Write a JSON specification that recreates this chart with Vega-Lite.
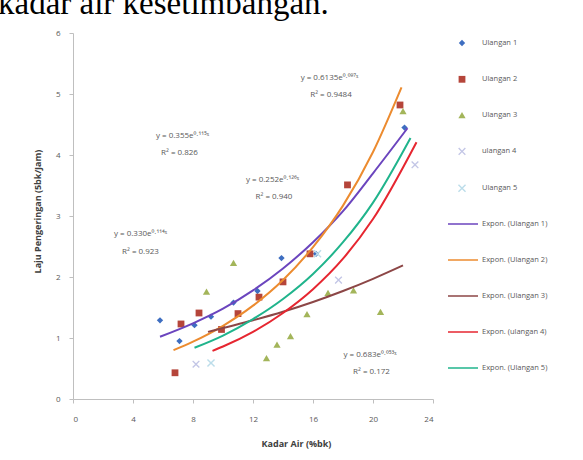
{
  "$schema": "https://vega.github.io/schema/vega-lite/v6.json",
  "width": 360,
  "height": 366,
  "autosize": {"type": "none"},
  "padding": {"left": 73, "top": 33, "right": 150, "bottom": 61},
  "background": "white",
  "title": {
    "text": "kadar air kesetimbangan.",
    "font": "Liberation Serif",
    "fontSize": 33,
    "fontWeight": "normal",
    "color": "#000000",
    "anchor": "start",
    "frame": "group",
    "baseline": "alphabetic",
    "offset": 4,
    "dx": -75,
    "dy": 22
  },
  "config": {
    "view": {"stroke": null},
    "font": "Open Sans",
    "axis": {
      "grid": false,
      "domainColor": "#BFBFBF",
      "tickColor": "#BFBFBF",
      "tickSize": 4,
      "labelFontSize": 8,
      "labelColor": "#595959",
      "labelFont": "Open Sans",
      "titleFont": "Open Sans",
      "titleFontSize": 9,
      "titleFontWeight": "bold",
      "titleColor": "#404040"
    },
    "legend": {
      "labelFont": "Open Sans",
      "labelFontSize": 7.5,
      "labelColor": "#595959",
      "padding": 0
    }
  },
  "datasets": {
    "pts": [
      {"s": "Ulangan 1", "x": 5.8, "y": 1.29},
      {"s": "Ulangan 1", "x": 7.1, "y": 0.95},
      {"s": "Ulangan 1", "x": 8.1, "y": 1.21},
      {"s": "Ulangan 1", "x": 9.2, "y": 1.35},
      {"s": "Ulangan 1", "x": 10.7, "y": 1.58},
      {"s": "Ulangan 1", "x": 12.3, "y": 1.77},
      {"s": "Ulangan 1", "x": 13.9, "y": 2.31},
      {"s": "Ulangan 1", "x": 16.2, "y": 2.38},
      {"s": "Ulangan 1", "x": 22.1, "y": 4.45},
      {"s": "Ulangan 2", "x": 6.8, "y": 0.43},
      {"s": "Ulangan 2", "x": 7.2, "y": 1.23},
      {"s": "Ulangan 2", "x": 8.4, "y": 1.41},
      {"s": "Ulangan 2", "x": 9.9, "y": 1.14},
      {"s": "Ulangan 2", "x": 11.0, "y": 1.4},
      {"s": "Ulangan 2", "x": 12.4, "y": 1.67},
      {"s": "Ulangan 2", "x": 14.0, "y": 1.92},
      {"s": "Ulangan 2", "x": 15.8, "y": 2.38},
      {"s": "Ulangan 2", "x": 18.3, "y": 3.51},
      {"s": "Ulangan 2", "x": 21.8, "y": 4.82},
      {"s": "Ulangan 3", "x": 8.9, "y": 1.76},
      {"s": "Ulangan 3", "x": 10.7, "y": 2.23},
      {"s": "Ulangan 3", "x": 12.9, "y": 0.67},
      {"s": "Ulangan 3", "x": 13.6, "y": 0.89},
      {"s": "Ulangan 3", "x": 14.5, "y": 1.03},
      {"s": "Ulangan 3", "x": 15.6, "y": 1.39},
      {"s": "Ulangan 3", "x": 17.0, "y": 1.74},
      {"s": "Ulangan 3", "x": 18.7, "y": 1.78},
      {"s": "Ulangan 3", "x": 20.5, "y": 1.43},
      {"s": "Ulangan 3", "x": 22.0, "y": 4.72},
      {"s": "ulangan 4", "x": 8.2, "y": 0.57},
      {"s": "ulangan 4", "x": 17.7, "y": 1.95},
      {"s": "ulangan 4", "x": 22.8, "y": 3.84},
      {"s": "Ulangan 5", "x": 9.2, "y": 0.59},
      {"s": "Ulangan 5", "x": 16.3, "y": 2.38}
    ],
    "curves": [
      {"c": "Expon. (Ulangan 1)", "x": 5.8, "y": 1.02},
      {"c": "Expon. (Ulangan 1)", "x": 8, "y": 1.24},
      {"c": "Expon. (Ulangan 1)", "x": 10, "y": 1.48},
      {"c": "Expon. (Ulangan 1)", "x": 12, "y": 1.78},
      {"c": "Expon. (Ulangan 1)", "x": 14, "y": 2.14},
      {"c": "Expon. (Ulangan 1)", "x": 16, "y": 2.57},
      {"c": "Expon. (Ulangan 1)", "x": 18, "y": 3.08},
      {"c": "Expon. (Ulangan 1)", "x": 20, "y": 3.7},
      {"c": "Expon. (Ulangan 1)", "x": 22.3, "y": 4.44},
      {"c": "Expon. (Ulangan 2)", "x": 6.7, "y": 0.8},
      {"c": "Expon. (Ulangan 2)", "x": 8, "y": 0.94},
      {"c": "Expon. (Ulangan 2)", "x": 10, "y": 1.2},
      {"c": "Expon. (Ulangan 2)", "x": 12, "y": 1.53},
      {"c": "Expon. (Ulangan 2)", "x": 14, "y": 1.95},
      {"c": "Expon. (Ulangan 2)", "x": 16, "y": 2.49},
      {"c": "Expon. (Ulangan 2)", "x": 18, "y": 3.17},
      {"c": "Expon. (Ulangan 2)", "x": 20, "y": 4.05},
      {"c": "Expon. (Ulangan 2)", "x": 21.9, "y": 5.11},
      {"c": "Expon. (Ulangan 3)", "x": 9, "y": 1.1},
      {"c": "Expon. (Ulangan 3)", "x": 12, "y": 1.29},
      {"c": "Expon. (Ulangan 3)", "x": 14, "y": 1.43},
      {"c": "Expon. (Ulangan 3)", "x": 16, "y": 1.59},
      {"c": "Expon. (Ulangan 3)", "x": 18, "y": 1.77},
      {"c": "Expon. (Ulangan 3)", "x": 20, "y": 1.97},
      {"c": "Expon. (Ulangan 3)", "x": 22, "y": 2.19},
      {"c": "Expon. (ulangan 4)", "x": 9.3, "y": 0.79},
      {"c": "Expon. (ulangan 4)", "x": 10, "y": 0.86},
      {"c": "Expon. (ulangan 4)", "x": 12, "y": 1.1},
      {"c": "Expon. (ulangan 4)", "x": 14, "y": 1.41},
      {"c": "Expon. (ulangan 4)", "x": 16, "y": 1.8},
      {"c": "Expon. (ulangan 4)", "x": 18, "y": 2.3},
      {"c": "Expon. (ulangan 4)", "x": 20, "y": 2.95},
      {"c": "Expon. (ulangan 4)", "x": 22.9, "y": 4.21},
      {"c": "Expon. (Ulangan 5)", "x": 8.1, "y": 0.84},
      {"c": "Expon. (Ulangan 5)", "x": 10, "y": 1.04},
      {"c": "Expon. (Ulangan 5)", "x": 12, "y": 1.31},
      {"c": "Expon. (Ulangan 5)", "x": 14, "y": 1.64},
      {"c": "Expon. (Ulangan 5)", "x": 16, "y": 2.05},
      {"c": "Expon. (Ulangan 5)", "x": 18, "y": 2.57},
      {"c": "Expon. (Ulangan 5)", "x": 20, "y": 3.22},
      {"c": "Expon. (Ulangan 5)", "x": 22.5, "y": 4.28}
    ],
    "notes": [
      {"x": 17.1, "y": 5.26, "t": "y = 0.6135e⁰·⁰⁹⁷ˣ"},
      {"x": 17.2, "y": 4.98, "t": "R² =  0.9484"},
      {"x": 7.3, "y": 4.31, "t": "y = 0.355e⁰·¹¹⁵ˣ"},
      {"x": 7.1, "y": 4.03, "t": "R² = 0.826"},
      {"x": 13.3, "y": 3.59, "t": "y = 0.252e⁰·¹²⁶ˣ"},
      {"x": 13.4, "y": 3.31, "t": "R² = 0.940"},
      {"x": 4.5, "y": 2.7, "t": "y = 0.330e⁰·¹¹⁴ˣ"},
      {"x": 4.5, "y": 2.41, "t": "R² = 0.923"},
      {"x": 19.8, "y": 0.72, "t": "y = 0.683e⁰·⁰⁵³ˣ"},
      {"x": 19.9, "y": 0.44, "t": "R² = 0.172"}
    ]
  },
  "layer": [
    {
      "data": {"name": "pts"},
      "mark": {"type": "point", "filled": true, "opacity": 1},
      "encoding": {
        "x": {
          "field": "x", "type": "quantitative",
          "scale": {"domain": [0, 24], "nice": false},
          "axis": {
            "title": "Kadar Air (%bk)",
            "values": [0, 4, 8, 12, 16, 20, 24],
            "format": "d",
            "labelPadding": 12,
            "titleX": 223,
            "titleY": 44,
            "titleBaseline": "middle"
          }
        },
        "y": {
          "field": "y", "type": "quantitative",
          "scale": {"domain": [0, 6], "nice": false},
          "axis": {
            "title": "Laju Pengeringan (5bk/Jam)",
            "values": [0, 1, 2, 3, 4, 5, 6],
            "format": "d",
            "labelPadding": 9,
            "titleX": -36,
            "titleY": 178,
            "titleBaseline": "middle"
          }
        },
        "color": {
          "field": "s", "type": "nominal",
          "scale": {
            "domain": ["Ulangan 1", "Ulangan 2", "Ulangan 3", "ulangan 4", "Ulangan 5"],
            "range": ["#3E6EC1", "#B5453A", "#A3B55A", "#C3C6E6", "#BCDDEA"]
          },
          "legend": {
            "title": null, "orient": "none", "legendX": 384, "legendY": 6,
            "symbolSize": 30, "labelOffset": 15, "rowPadding": 27.8
          }
        },
        "shape": {
          "field": "s", "type": "nominal",
          "scale": {
            "domain": ["Ulangan 1", "Ulangan 2", "Ulangan 3", "ulangan 4", "Ulangan 5"],
            "range": ["diamond", "square", "triangle-up",
              "M-1,-0.75L-0.75,-1L0,-0.25L0.75,-1L1,-0.75L0.25,0L1,0.75L0.75,1L0,0.25L-0.75,1L-1,0.75L-0.25,0Z",
              "M-1,-0.75L-0.75,-1L0,-0.25L0.75,-1L1,-0.75L0.25,0L1,0.75L0.75,1L0,0.25L-0.75,1L-1,0.75L-0.25,0Z"]
          },
          "legend": {
            "title": null, "orient": "none", "legendX": 384, "legendY": 6,
            "symbolSize": 30, "labelOffset": 15, "rowPadding": 27.8
          }
        },
        "size": {
          "field": "s", "type": "nominal",
          "scale": {
            "domain": ["Ulangan 1", "Ulangan 2", "Ulangan 3", "ulangan 4", "Ulangan 5"],
            "range": [40, 65, 55, 40, 40]
          },
          "legend": null
        }
      }
    },
    {
      "data": {"name": "curves"},
      "mark": {"type": "line", "strokeWidth": 2, "interpolate": "monotone"},
      "encoding": {
        "x": {"field": "x", "type": "quantitative"},
        "y": {"field": "y", "type": "quantitative"},
        "stroke": {
          "field": "c", "type": "nominal",
          "scale": {
            "domain": ["Expon. (Ulangan 1)", "Expon. (Ulangan 2)", "Expon. (Ulangan 3)", "Expon. (ulangan 4)", "Expon. (Ulangan 5)"],
            "range": ["#6B45BE", "#EC8B2F", "#8C4646", "#E62630", "#20B48C"]
          },
          "legend": {
            "title": null, "orient": "none", "legendX": 374, "legendY": 175,
            "symbolType": "stroke", "symbolSize": 900, "symbolStrokeWidth": 1.5,
            "labelOffset": 3, "rowPadding": 16
          }
        }
      }
    },
    {
      "data": {"name": "notes"},
      "mark": {"type": "text", "fontSize": 8, "color": "#595959", "font": "Open Sans", "align": "center", "baseline": "middle"},
      "encoding": {
        "x": {"field": "x", "type": "quantitative"},
        "y": {"field": "y", "type": "quantitative"},
        "text": {"field": "t", "type": "nominal"}
      }
    }
  ]
}
